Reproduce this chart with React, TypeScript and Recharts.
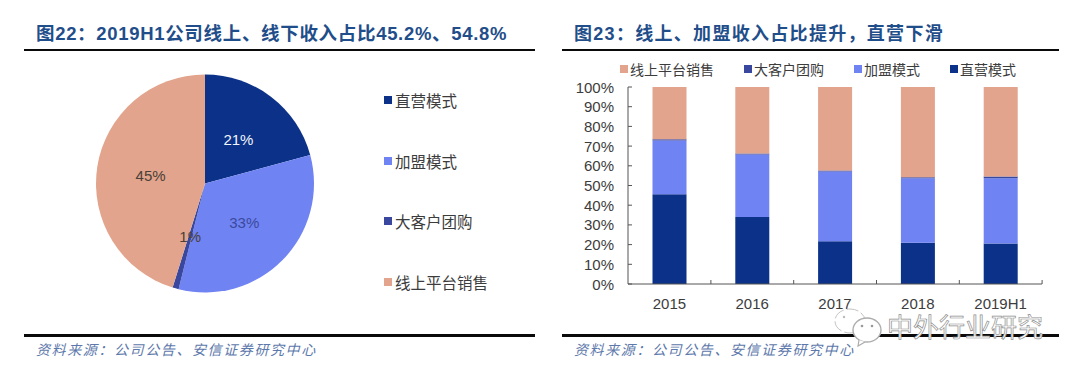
import React from "react";
import { PieChart, Pie, Cell, BarChart, Bar, XAxis, YAxis, Legend } from "recharts";

const pieNames = ["直营模式", "加盟模式", "大客户团购", "线上平台销售"];
const pieValues = [20.8, 33.1, 0.9, 45.2];
const pieLabels = ["21%", "33%", "1%", "45%"];
const pieLabelColors = ["#f2f5fb", "#3a4a9e", "#4a4038", "#4a4038"];
const colors = ["#0b3288", "#7083f2", "#3a479f", "#e2a48c"];

const years = ["2015", "2016", "2017", "2018", "2019H1"];
const direct = [45.5, 34, 21.7, 21, 20.5];
const franchise = [27.4, 31.7, 35.4, 32.7, 33.2];
const corporate = [0.6, 0.6, 0.5, 0.5, 0.9];
const online = [26.5, 33.7, 42.4, 45.8, 45.4];
const yTicks = [0, 10, 20, 30, 40, 50, 60, 70, 80, 90, 100];
const barLegendOrder = [3, 2, 1, 0];

const titleLeft = "图22\uFF1A2019H1公司线上、线下收入占比45.2%、54.8%";
const titleRight = "图23\uFF1A线上、加盟收入占比提升\uFF0C直营下滑";
const source = "资料来源\uFF1A公司公告、安信证券研究中心";
const watermark = "中外行业研究";

const pieData = pieNames.map((name, i) => ({ name, value: pieValues[i], label: pieLabels[i] }));
const barData = years.map((year, i) => ({
  year,
  direct: direct[i],
  franchise: franchise[i],
  corporate: corporate[i],
  online: online[i],
}));

const SANS = '"Liberation Sans", "Noto Sans CJK SC", sans-serif';
const TEXT = "#3c3c3c";
const RAD = Math.PI / 180;
const BAND = 83;

function abs(left: number, top: number, extra: React.CSSProperties = {}): React.CSSProperties {
  return { position: "absolute", left, top, ...extra };
}

function Title({ x, text, spacing, size }: { x: number; text: string; spacing: number; size: number }) {
  return (
    <div style={abs(x, 22, { fontFamily: SANS, fontWeight: 700, fontSize: size, lineHeight: "24px", color: "#1f4e8a", letterSpacing: spacing, whiteSpace: "nowrap" })}>
      {text}
    </div>
  );
}

function Rule({ x, w, y, h }: { x: number; w: number; y: number; h: number }) {
  return <div style={abs(x, y, { width: w, height: h, background: "#0a0a0a" })} />;
}

function Source({ x }: { x: number }) {
  return (
    <div style={abs(x, 339, { fontFamily: '"Noto Sans CJK SC", sans-serif', fontStyle: "italic", fontSize: 14, lineHeight: "20px", color: "#5d78ab", letterSpacing: 1.6, whiteSpace: "nowrap" })}>
      {source}
    </div>
  );
}

function pieLabel(props: any) {
  const { cx, cy, midAngle, index } = props;
  const r = 55;
  return (
    <text
      x={cx + r * Math.cos(-midAngle * RAD)}
      y={cy + r * Math.sin(-midAngle * RAD)}
      textAnchor="middle"
      dominantBaseline="central"
      fontFamily={SANS}
      fontSize={15}
      fill={pieLabelColors[index]}
    >
      {pieData[index].label}
    </text>
  );
}

function PieLegend() {
  return (
    <div style={{ position: "relative", width: 120, height: 250 }}>
      {pieNames.map((n, i) => (
        <div key={n} style={abs(0, i * 60.7, { display: "flex", alignItems: "center", height: 20, whiteSpace: "nowrap" })}>
          <span style={{ width: 8, height: 8, background: colors[i], marginRight: 3 }} />
          <span style={{ fontFamily: SANS, fontSize: 15.5, color: TEXT }}>{n}</span>
        </div>
      ))}
    </div>
  );
}

const barLegendX = [0, 124, 234, 330];

function BarLegend() {
  return (
    <div style={{ position: "relative", width: 420, height: 20 }}>
      {barLegendOrder.map((c, i) => (
        <div key={c} style={abs(barLegendX[i], 0, { display: "flex", alignItems: "center", height: 20, whiteSpace: "nowrap" })}>
          <span style={{ width: 8, height: 8, background: colors[c], marginRight: 2 }} />
          <span style={{ fontFamily: SANS, fontSize: 14, color: TEXT }}>{pieNames[c]}</span>
        </div>
      ))}
    </div>
  );
}

function YTick(props: any) {
  const { x, y, payload } = props;
  return (
    <g>
      <line x1={x} x2={x + 4} y1={y} y2={y} stroke="#555" strokeWidth={1} />
      <text x={x - 14} y={y} textAnchor="end" dominantBaseline="central" fontFamily={SANS} fontSize={15} fill={TEXT}>
        {payload.value}%
      </text>
    </g>
  );
}

function XTick(props: any) {
  const { x, y, payload } = props;
  const edge = x + BAND / 2;
  return (
    <g>
      <line x1={edge} x2={edge} y1={y} y2={y - 4} stroke="#555" strokeWidth={1} />
      <text x={x} y={y + 19} textAnchor="middle" dominantBaseline="central" fontFamily={SANS} fontSize={15} fill={TEXT}>
        {payload.value}
      </text>
    </g>
  );
}

function Watermark() {
  return (
    <>
      <svg width={60} height={44} style={abs(832, 306)}>
        <ellipse cx={18} cy={15} rx={15} ry={12} fill="#ffffff" stroke="#c4c4c4" strokeWidth={1} strokeDasharray="12 3" />
        <ellipse cx={35} cy={24} rx={14} ry={12} fill="#ffffff" stroke="#adadad" strokeWidth={1.4} />
        <path d="M27 34 L26 40 L33 36" fill="#ffffff" stroke="#adadad" strokeWidth={1.2} />
        <circle cx={30} cy={20} r={1.3} fill="#999" />
        <circle cx={40} cy={20} r={1.3} fill="#999" />
        <circle cx={12} cy={11} r={1.2} fill="#bbb" />
      </svg>
      <div style={abs(887, 313, { fontFamily: SANS, fontSize: 26, lineHeight: "30px", color: "#ffffff", WebkitTextStroke: "0.7px #8f8f8f", whiteSpace: "nowrap" })}>
        {watermark}
      </div>
    </>
  );
}

export default function App() {
  return (
    <div style={abs(0, 0, { width: 1080, height: 375, background: "#ffffff", overflow: "hidden" })}>
      <Title x={36} text={titleLeft} spacing={0.68} size={18.5} />
      <Rule x={24} w={511} y={49} h={2} />
      <div style={abs(50, 55)}>
        <PieChart width={480} height={260} margin={{ top: 0, right: 0, bottom: 0, left: 0 }}>
          <Pie
            data={pieData}
            dataKey="value"
            nameKey="name"
            cx={155}
            cy={128.5}
            outerRadius={109}
            startAngle={90}
            endAngle={-270}
            stroke="none"
            labelLine={false}
            label={pieLabel}
            isAnimationActive={false}
          >
            {pieData.map((d, i) => (
              <Cell key={d.name} fill={colors[i]} />
            ))}
          </Pie>
          <Legend
            layout="horizontal"
            align="center"
            verticalAlign="middle"
            content={<PieLegend />}
            wrapperStyle={{ left: 334, top: 35, width: 130, height: 250 }}
          />
        </PieChart>
      </div>
      <Rule x={24} w={511} y={334} h={3} />
      <Source x={36} />

      <Title x={574} text={titleRight} spacing={1.3} size={18} />
      <Rule x={562} w={497} y={49} h={2} />
      <div style={abs(560, 55)}>
        <BarChart width={500} height={275} data={barData} margin={{ top: 32, right: 18, bottom: 0, left: 0 }} barCategoryGap={24.5}>
          <XAxis dataKey="year" height={46} tick={<XTick />} tickLine={false} tickSize={0} tickMargin={0} axisLine={{ stroke: "#555" }} interval={0} />
          <YAxis
            width={68}
            domain={[0, 100]}
            ticks={yTicks}
            tick={<YTick />}
            tickLine={false}
            tickSize={0}
            tickMargin={0}
            axisLine={{ stroke: "#555" }}
            interval={0}
          />
          <Bar dataKey="direct" stackId="a" fill={colors[0]} isAnimationActive={false} />
          <Bar dataKey="franchise" stackId="a" fill={colors[1]} isAnimationActive={false} />
          <Bar dataKey="corporate" stackId="a" fill={colors[2]} isAnimationActive={false} />
          <Bar dataKey="online" stackId="a" fill={colors[3]} isAnimationActive={false} />
          <Legend
            layout="horizontal"
            align="center"
            verticalAlign="middle"
            content={<BarLegend />}
            wrapperStyle={{ left: 60, top: 4, width: 420, height: 20 }}
          />
        </BarChart>
      </div>
      <Rule x={562} w={497} y={334} h={3} />
      <Source x={574} />
      <Watermark />
    </div>
  );
}
